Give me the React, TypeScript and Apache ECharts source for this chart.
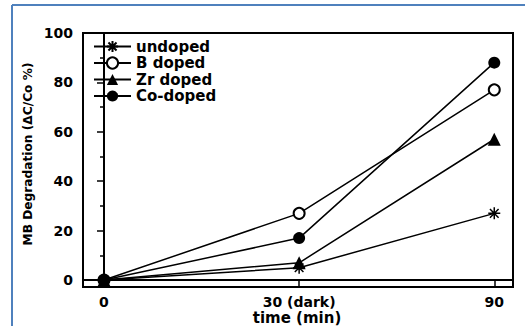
import React, { useEffect, useRef } from "react";
import * as echarts from "echarts";

const xLabels = ["0", "30 (dark)", "90"];
const xPositions = [0, 1, 2];
const yTicks = [0, 20, 40, 60, 80, 100];
const yMinorTicks = [10, 30, 50, 70, 90];

const undoped = [0, 5, 27];
const bDoped = [0, 27, 77];
const zrDoped = [0, 7, 57];
const coDoped = [0, 17, 88];

const seriesNames = ["undoped", "B doped", "Zr doped", "Co-doped"];

const ASTERISK =
  "path://M0,-1L0,1M-1,0L1,0M-0.72,-0.72L0.72,0.72M-0.72,0.72L0.72,-0.72";

export default function App() {
  const ref = useRef<HTMLDivElement>(null);
  useEffect(() => {
    if (!ref.current) return;
    const chart = echarts.init(ref.current, null, { renderer: "svg" });
    const toPairs = (arr: number[]) => arr.map((v, i) => [xPositions[i], v]);
    const lineStyle = { color: "#000", width: 1.5 };
    const tickFont = {
      fontFamily: "DejaVu Sans",
      fontWeight: "bold" as const,
      fontSize: 14,
      color: "#000",
    };
    const gridBox = { left: 83, top: 33, right: 12, bottom: 39 };
    chart.setOption({
      animation: false,
      backgroundColor: "#fff",
      grid: [
        {
          ...gridBox,
          show: true,
          borderColor: "#000",
          borderWidth: 2,
          backgroundColor: "transparent",
        },
        { ...gridBox, show: false },
      ],
      xAxis: [
        {
          type: "value",
          gridIndex: 0,
          min: -0.1076,
          max: 2.096,
          splitLine: { show: false },
          axisLine: { show: true, lineStyle: { color: "#000", width: 2 } },
          axisTick: {
            show: true,
            inside: false,
            length: 6,
            customValues: xPositions,
            lineStyle: { color: "#000", width: 1.5 },
          },
          axisLabel: {
            ...tickFont,
            margin: 8,
            customValues: xPositions,
            formatter: (v: number) => xLabels[Math.round(v)] ?? "",
          },
        },
        {
          type: "value",
          gridIndex: 1,
          min: -0.1076,
          max: 2.096,
          show: false,
        },
      ],
      yAxis: [
        {
          type: "value",
          gridIndex: 0,
          min: -2.8,
          max: 100,
          splitLine: { show: false },
          axisLine: { show: true, lineStyle: { color: "#000", width: 2 } },
          axisTick: {
            show: true,
            inside: false,
            length: 7,
            customValues: yTicks,
            lineStyle: { color: "#000", width: 1.5 },
          },
          axisLabel: {
            ...tickFont,
            margin: 10,
            customValues: yTicks,
          },
        },
        {
          type: "value",
          gridIndex: 1,
          position: "left",
          min: -2.8,
          max: 100,
          splitLine: { show: false },
          axisLine: { show: true, lineStyle: { color: "#000", width: 2 } },
          axisTick: {
            show: true,
            inside: false,
            length: 4,
            customValues: yMinorTicks,
            lineStyle: { color: "#000", width: 1.5 },
          },
          axisLabel: { show: false },
        },
      ],
      legend: {
        orient: "vertical",
        left: 93,
        top: 39,
        padding: 0,
        itemWidth: 37,
        itemHeight: 14,
        itemGap: 1.5,
        data: seriesNames,
        textStyle: {
          fontFamily: "DejaVu Sans",
          fontWeight: "bold",
          fontSize: 15,
          lineHeight: 15,
          color: "#000",
        },
      },
      graphic: [
        {
          type: "line",
          shape: { x1: 12, y1: 5, x2: 525, y2: 5 },
          style: { stroke: "#4f81bd", lineWidth: 2 },
        },
        {
          type: "line",
          shape: { x1: 12, y1: 5, x2: 12, y2: 326 },
          style: { stroke: "#4f81bd", lineWidth: 2 },
        },
        {
          type: "text",
          x: 28,
          y: 154,
          rotation: Math.PI / 2,
          style: {
            text: "MB Degradation (ΔC/Co %)",
            fontFamily: "DejaVu Sans",
            fontWeight: "bold",
            fontSize: 12.2,
            fill: "#000",
            align: "center",
            verticalAlign: "middle",
          },
        },
        {
          type: "text",
          x: 297,
          y: 318,
          style: {
            text: "time (min)",
            fontFamily: "DejaVu Sans",
            fontWeight: "bold",
            fontSize: 15,
            fill: "#000",
            align: "center",
            verticalAlign: "middle",
          },
        },
      ],
      series: [
        {
          name: seriesNames[0],
          type: "line",
          data: toPairs(undoped),
          symbol: ASTERISK,
          symbolSize: 12,
          lineStyle,
          itemStyle: { color: "#000", borderColor: "#000", borderWidth: 1.5 },
        },
        {
          name: seriesNames[1],
          type: "line",
          data: toPairs(bDoped),
          symbol: "emptyCircle",
          symbolSize: 11,
          lineStyle,
          itemStyle: { color: "#000", borderColor: "#000", borderWidth: 1.5 },
        },
        {
          name: seriesNames[2],
          type: "line",
          data: toPairs(zrDoped),
          symbol: "triangle",
          symbolSize: 13,
          lineStyle,
          itemStyle: { color: "#000" },
        },
        {
          name: seriesNames[3],
          type: "line",
          data: toPairs(coDoped),
          symbol: "circle",
          symbolSize: 12,
          lineStyle,
          itemStyle: { color: "#000" },
        },
      ],
    });
    return () => chart.dispose();
  }, []);
  return <div ref={ref} style={{ width: 525, height: 326, position: "absolute", left: 0, top: 0 }} />;
}
